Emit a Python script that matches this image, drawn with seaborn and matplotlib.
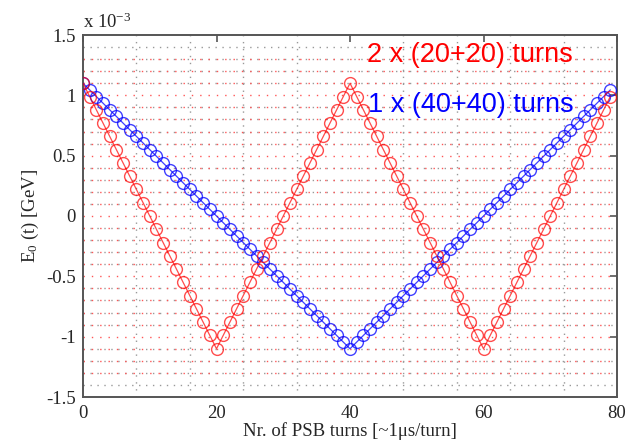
import numpy as np
import pandas as pd
import matplotlib
matplotlib.use("Agg")
import matplotlib.pyplot as plt
import seaborn as sns
from matplotlib.ticker import FixedLocator, FuncFormatter

# PSB turn index
turns = list(range(80))

# Energy offset E0(t), in units of 1e-3 GeV
# one ramp of 40 turns down and 40 turns up
e0_blue = [
    1.1, 1.045, 0.99, 0.935, 0.88, 0.825, 0.77, 0.715, 0.66, 0.605,
    0.55, 0.495, 0.44, 0.385, 0.33, 0.275, 0.22, 0.165, 0.11, 0.055,
    0.0, -0.055, -0.11, -0.165, -0.22, -0.275, -0.33, -0.385, -0.44, -0.495,
    -0.55, -0.605, -0.66, -0.715, -0.77, -0.825, -0.88, -0.935, -0.99, -1.045,
    -1.1, -1.045, -0.99, -0.935, -0.88, -0.825, -0.77, -0.715, -0.66, -0.605,
    -0.55, -0.495, -0.44, -0.385, -0.33, -0.275, -0.22, -0.165, -0.11, -0.055,
    0.0, 0.055, 0.11, 0.165, 0.22, 0.275, 0.33, 0.385, 0.44, 0.495,
    0.55, 0.605, 0.66, 0.715, 0.77, 0.825, 0.88, 0.935, 0.99, 1.045,
]
# two ramps of 20 turns down and 20 turns up
e0_red = [
    1.1, 0.99, 0.88, 0.77, 0.66, 0.55, 0.44, 0.33, 0.22, 0.11,
    0.0, -0.11, -0.22, -0.33, -0.44, -0.55, -0.66, -0.77, -0.88, -0.99,
    -1.1, -0.99, -0.88, -0.77, -0.66, -0.55, -0.44, -0.33, -0.22, -0.11,
    0.0, 0.11, 0.22, 0.33, 0.44, 0.55, 0.66, 0.77, 0.88, 0.99,
    1.1, 0.99, 0.88, 0.77, 0.66, 0.55, 0.44, 0.33, 0.22, 0.11,
    0.0, -0.11, -0.22, -0.33, -0.44, -0.55, -0.66, -0.77, -0.88, -0.99,
    -1.1, -0.99, -0.88, -0.77, -0.66, -0.55, -0.44, -0.33, -0.22, -0.11,
    0.0, 0.11, 0.22, 0.33, 0.44, 0.55, 0.66, 0.77, 0.88, 0.99,
]

label_red = "2 x (20+20) turns"
label_blue = "1 x (40+40) turns"

x_ticks = [0, 20, 40, 60, 80]
y_ticks = [-1.5, -1.0, -0.5, 0.0, 0.5, 1.0, 1.5]
x_grid = [8, 16, 24, 32, 40, 48, 56, 64, 72]
y_grid = [round(v, 1) for v in np.arange(-1.4, 1.41, 0.1)]
energy_levels = [round(v, 1) for v in np.arange(-1.3, 1.31, 0.1)]

df = pd.DataFrame({"turn": turns, "blue": e0_blue, "red": e0_red})

sns.set_theme(style="white")
plt.rcParams["font.family"] = ["Liberation Serif", "DejaVu Serif"]
plt.rcParams["mathtext.fontset"] = "custom"
plt.rcParams["mathtext.rm"] = "Liberation Serif"
plt.rcParams["mathtext.it"] = "Liberation Serif:italic"

fig = plt.figure(figsize=(6.38, 4.41), dpi=100)
ax = fig.add_axes([83 / 638, 1 - 397 / 441, 534 / 638, 362 / 441])

# dotted grid
ax.xaxis.set_minor_locator(FixedLocator(x_grid))
ax.yaxis.set_minor_locator(FixedLocator(y_grid))
ax.grid(which="minor", color="#999999", linestyle=(0, (1, 4)), linewidth=1.0)
ax.grid(which="major", visible=False)
ax.hlines(energy_levels, 0, 80, colors="#ff5555", linestyles=(0, (1, 5)),
          linewidth=1.0, zorder=1)

sns.lineplot(data=df, x="turn", y="blue", ax=ax, color="#0000ff", marker="o",
             markersize=8.5, markerfacecolor="none", markeredgecolor="#0000ff",
             markeredgewidth=1.0, linewidth=0.9, zorder=3, alpha=0.75)
sns.lineplot(data=df, x="turn", y="red", ax=ax, color="#ff0000", marker="o",
             markersize=8.5, markerfacecolor="none", markeredgecolor="#ff0000",
             markeredgewidth=1.0, linewidth=0.9, zorder=4, alpha=0.7)

ax.set_xlim(0, 80)
ax.set_ylim(-1.5, 1.5)
ax.set_xticks(x_ticks)
ax.set_yticks(y_ticks)
ax.yaxis.set_major_formatter(FuncFormatter(lambda v, p: f"{v:g}"))
ax.tick_params(which="major", direction="in", length=5, width=1.2,
               color="#555555", labelsize=13.5, pad=5,
               top=True, right=True)
ax.tick_params(axis="x", which="major", pad=6)
ax.tick_params(which="minor", length=0)
for s in ax.spines.values():
    s.set_color("#555555")
    s.set_linewidth(1.4)

ax.set_xlabel("Nr. of PSB turns [~1\u03bcs/turn]", fontsize=13.5, labelpad=0)
ax.set_ylabel("E$_0$ (t) [GeV]", fontsize=13.5, labelpad=4)
ax.text(0.0, 1.008, "x 10$^{-3}$", transform=ax.transAxes, fontsize=13.5,
        ha="left", va="bottom")

ax.text(0.918, 0.925, label_red, transform=ax.transAxes, color="#ff0000",
        fontsize=19.5, family=["Liberation Sans", "DejaVu Sans"], ha="right",
        va="baseline")
ax.text(0.918, 0.787, label_blue, transform=ax.transAxes, color="#0000ff",
        fontsize=19.5, family=["Liberation Sans", "DejaVu Sans"], ha="right",
        va="baseline")

fig.savefig("out.png", dpi=100)
